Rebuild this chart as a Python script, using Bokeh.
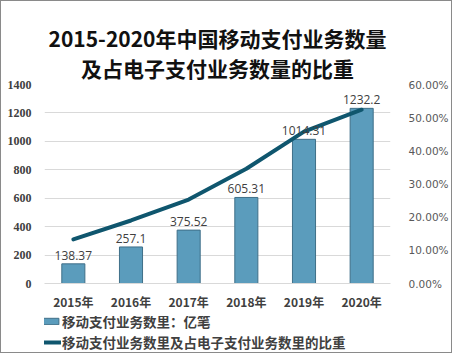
from bokeh.plotting import figure
from bokeh.models import (ColumnDataSource, Range1d, LinearAxis, NumeralTickFormatter,
                          Legend, LegendItem, Title, FixedTicker, LabelSet)
from bokeh.core.properties import value
from bokeh.layouts import column
from bokeh.embed import file_html
from bokeh.resources import INLINE

years = ["2015年", "2016年", "2017年", "2018年", "2019年", "2020年"]
volume = [138.37, 257.1, 375.52, 605.31, 1014.31, 1232.2]
share = [0.133, 0.19, 0.253, 0.346, 0.458, 0.524]
vol_labels = ["138.37", "257.1", "375.52", "605.31", "1014.31", "1232.2"]
left_ticks = [0, 200, 400, 600, 800, 1000, 1200, 1400]
right_ticks = [0.0, 0.1, 0.2, 0.3, 0.4, 0.5, 0.6]
title_line1 = "2015-2020年中国移动支付业务数量"
title_line2 = "及占电子支付业务数量的比重"
bar_name = "移动支付业务数里：亿笔"
line_name = "移动支付业务数里及占电子支付业务数里的比重"

BAR_FILL = "#5b9cbc"
BAR_LINE = "#3f6f88"
LINE_COL = "#0f566e"

src = ColumnDataSource(dict(x=years, v=volume, s=share, lab=vol_labels))

p = figure(width=450, height=315, x_range=years, y_range=Range1d(0, 1400),
           output_backend="svg", toolbar_location=None,
           min_border_left=43, min_border_right=51, min_border_top=83, min_border_bottom=33)
p.outline_line_color = None
p.background_fill_color = "white"
p.border_fill_color = "white"

for txt, so in [(title_line2, 3), (title_line1, -6)]:
    t = Title(text=txt, align="center", text_font="Noto Sans CJK SC",
              text_font_size="21px", text_font_style="bold", text_color="#111111",
              standoff=so)
    p.add_layout(t, "above")

p.extra_y_ranges = {"pct": Range1d(0, 0.6)}
ax_r = LinearAxis(y_range_name="pct", ticker=FixedTicker(ticks=right_ticks),
                  formatter=NumeralTickFormatter(format="0.00%"))
p.add_layout(ax_r, "right")

for ax in [p.yaxis[0], ax_r]:
    ax.axis_line_color = None
    ax.major_tick_line_color = None
    ax.minor_tick_line_color = None
p.yaxis[0].ticker = FixedTicker(ticks=left_ticks)
p.yaxis[0].major_label_text_font = "Liberation Serif"
p.yaxis[0].major_label_text_font_style = "bold"
p.yaxis[0].major_label_text_font_size = "12px"
p.yaxis[0].major_label_text_color = "#404040"
p.yaxis[0].major_label_standoff = 7
ax_r.major_label_text_font = "DejaVu Sans"
ax_r.major_label_text_font_size = "10.5px"
ax_r.major_label_text_color = "#595959"
ax_r.major_label_standoff = 12

xa = p.xaxis[0]
xa.axis_line_color = "#d9d9d9"
xa.major_tick_line_color = None
xa.minor_tick_line_color = None
xa.major_label_text_font = "Noto Sans CJK SC"
xa.major_label_text_font_style = "bold"
xa.major_label_text_font_size = "12px"
xa.major_label_text_color = "#404040"
xa.major_label_standoff = 3

p.xgrid.grid_line_color = None
p.ygrid.grid_line_color = "#d9d9d9"
p.x_range.range_padding = 0

p.vbar(x="x", top="v", width=0.4, source=src, fill_color=BAR_FILL,
       line_color=BAR_LINE, line_width=1)
p.line(x="x", y="s", source=src, y_range_name="pct", line_color=LINE_COL,
       line_width=4, line_cap="round", line_join="round")

labels = LabelSet(x="x", y="v", text="lab", source=src, text_align="center",
                  text_baseline="bottom", y_offset=4, text_font=value("Open Sans"),
                  text_font_size=value("12px"), text_color=value("#404040"))
p.add_layout(labels)

# legend strip below the chart (swatch renderers hold no visible points)
lf = figure(width=450, height=36, x_range=Range1d(0, 1), y_range=Range1d(0, 1),
            output_backend="svg", toolbar_location=None, x_axis_type=None, y_axis_type=None,
            min_border=0, min_border_left=0, min_border_right=0,
            min_border_top=0, min_border_bottom=0)
lf.outline_line_color = None
lf.xgrid.grid_line_color = None
lf.ygrid.grid_line_color = None
dummy = ColumnDataSource(dict(x=[float("nan")], y=[float("nan")], top=[float("nan")]))
rb = lf.vbar(x="x", top="top", width=0.1, source=dummy, fill_color=BAR_FILL,
             line_color=BAR_LINE, line_width=1)
rl = lf.line(x="x", y="y", source=dummy, line_color=LINE_COL, line_width=4)

leg = Legend(items=[LegendItem(label=bar_name, renderers=[rb]),
                    LegendItem(label=line_name, renderers=[rl])],
             location=(-9, 0), orientation="vertical")
leg.border_line_color = None
leg.background_fill_alpha = 0
leg.padding = 0
leg.margin = 0
leg.spacing = 1
leg.glyph_width = 26
leg.glyph_height = 8
leg.label_height = 17
leg.label_standoff = 1
leg.label_text_font = "Noto Sans CJK SC"
leg.label_text_font_style = "bold"
leg.label_text_font_size = "13.5px"
leg.label_text_color = "#404040"
lf.add_layout(leg, "center")

layout = column(p, lf, spacing=0, styles={"border": "1px solid #8a8a8a"})
open("out.html", "w").write(file_html(layout, INLINE))
